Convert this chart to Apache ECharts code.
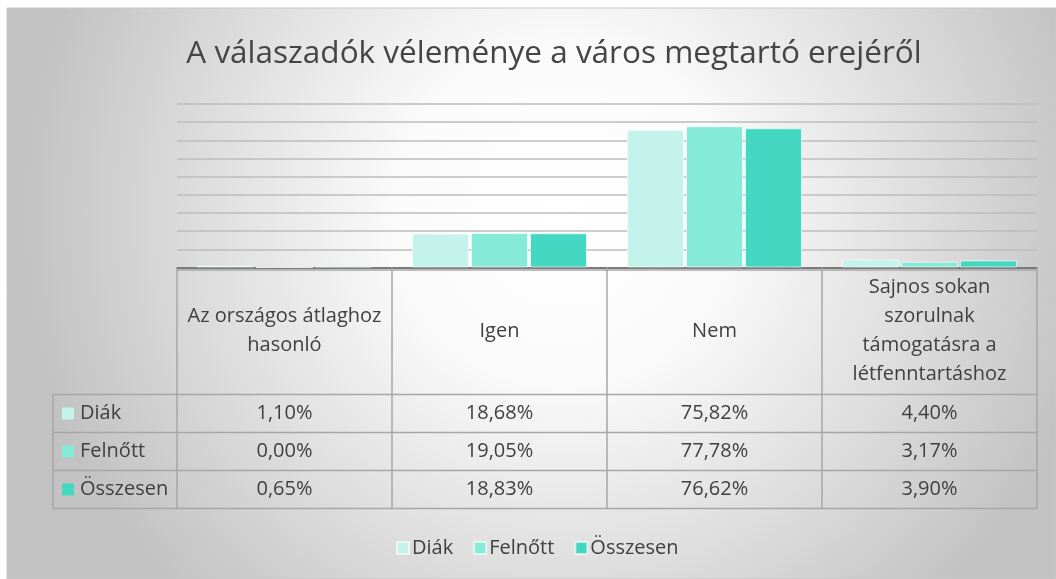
<!DOCTYPE html>
<html>
<head>
<meta charset="utf-8">
<script src="https://cdn.jsdelivr.net/npm/echarts@6/dist/echarts.min.js"></script>
<style>
  html, body { margin: 0; padding: 0; background: #ffffff; }
  #chart { width: 1056px; height: 579px; }
</style>
</head>
<body>
<div id="chart"></div>
<script>
//--------------------------------
// Data
//--------------------------------
const categories = [
    'Az országos átlaghoz\nhasonló',
    'Igen',
    'Nem',
    'Sajnos sokan\nszorulnak\ntámogatásra a\nlétfenntartáshoz'
];
const seriesNames = ['Diák', 'Felnőtt', 'Összesen'];
const diak = [1.10, 18.68, 75.82, 4.40];
const felnott = [0.00, 19.05, 77.78, 3.17];
const osszesen = [0.65, 18.83, 76.62, 3.90];
const seriesColors = ['#c3f3ea', '#86ead9', '#44d8c2'];

//--------------------------------
// Layout
//--------------------------------
const FONT = 'Open Sans';
const gridLeft = 177;
const gridRight = 1037;
const axisY = 267.5;
const plotTop = 104;
const headerH = 127;
const rowH = 38;
const rowLabelLeft = 53;

const rows = [diak, felnott, osszesen];
const fmt = (v) => v.toFixed(2).replace('.', ',') + '%';

var myChart = echarts.init(document.getElementById('chart'));

let xAxes = [{
    type: 'category',
    data: categories,
    position: 'bottom',
    axisLine: { show: true, lineStyle: { color: '#7a7a7a', width: 2 } },
    axisTick: { show: true, interval: 0, length: headerH + rowH * 3, lineStyle: { color: '#a6a6a6', width: 1.5 } },
    axisLabel: {
        interval: 0,
        margin: headerH / 2,
        verticalAlign: 'middle',
        align: 'center',
        fontFamily: FONT,
        fontSize: 20,
        lineHeight: 29,
        color: '#404040'
    }
}];
rows.forEach((r, i) => {
    xAxes.push({
        type: 'category',
        data: categories,
        position: 'bottom',
        axisLine: { show: false },
        axisTick: { show: false },
        axisLabel: {
            interval: 0,
            margin: headerH + rowH * (i + 0.5),
            verticalAlign: 'middle',
            fontFamily: FONT,
            fontSize: 20,
            color: '#404040',
            formatter: (v, idx) => fmt(r[idx])
        }
    });
});

// table lines and row headers
let graphics = [{
    type: 'rect',
    z: -100,
    shape: { x: 7, y: 8, width: 1049, height: 571 },
    style: {
        fill: new echarts.graphic.RadialGradient(0.53, 0.36, 0.95, [
            { offset: 0, color: '#ffffff' },
            { offset: 0.3, color: '#fbfbfb' },
            { offset: 1, color: '#c2c2c2' }
        ]),
        stroke: '#c8c8c8',
        lineWidth: 1
    }
}, {
    type: 'line',
    shape: { x1: gridLeft, y1: axisY + 2.5, x2: gridRight, y2: axisY + 2.5 },
    style: { stroke: '#a6a6a6', lineWidth: 1.5 }
}, {
    type: 'line',
    shape: { x1: rowLabelLeft, y1: axisY + headerH, x2: rowLabelLeft, y2: axisY + headerH + rowH * 3 },
    style: { stroke: '#a6a6a6', lineWidth: 1.5 }
}];
for (let i = 0; i <= 3; i++) {
    let y = axisY + headerH + rowH * i;
    graphics.push({
        type: 'line',
        shape: { x1: rowLabelLeft, y1: y, x2: gridRight, y2: y },
        style: { stroke: '#a6a6a6', lineWidth: 1.5 }
    });
}
seriesNames.forEach((name, i) => {
    let cy = axisY + headerH + rowH * (i + 0.5);
    graphics.push({
        type: 'rect',
        shape: { x: rowLabelLeft + 9, y: cy - 6, width: 12, height: 12 },
        style: { fill: seriesColors[i] }
    });
    graphics.push({
        type: 'text',
        x: rowLabelLeft + 27,
        y: cy,
        style: {
            text: name,
            fontFamily: FONT,
            fontSize: 20,
            fill: '#404040',
            verticalAlign: 'middle'
        }
    });
});

let options = {
    animation: false,
    title: {
        text: 'A válaszadók véleménye a város megtartó erejéről',
        left: 549,
        textAlign: 'center',
        top: 33,
        textStyle: {
            fontFamily: FONT,
            fontSize: 31.5,
            fontWeight: 'normal',
            color: '#454545'
        }
    },
    legend: {
        data: seriesNames,
        left: 391,
        top: 533,
        icon: 'rect',
        itemWidth: 12,
        itemHeight: 12,
        itemGap: 20,
        textStyle: { fontFamily: FONT, fontSize: 20, color: '#404040', padding: [0, 0, 0, -2] }
    },
    grid: {
        left: gridLeft,
        right: 1056 - gridRight,
        top: plotTop,
        bottom: 579 - axisY
    },
    xAxis: xAxes,
    yAxis: {
        type: 'value',
        min: 0,
        max: 90,
        interval: 10,
        axisLine: { show: false },
        axisTick: { show: false },
        axisLabel: { show: false },
        splitLine: { lineStyle: { color: '#bcbcbc', width: 1.5 } }
    },
    graphic: graphics,
    series: [
        { name: seriesNames[0], data: diak },
        { name: seriesNames[1], data: felnott },
        { name: seriesNames[2], data: osszesen }
    ].map((s, i) => ({
        name: s.name,
        type: 'bar',
        data: s.data,
        barWidth: 57,
        barGap: '3.5%',
        itemStyle: {
            color: seriesColors[i],
            borderColor: 'rgba(255,255,255,0.6)',
            borderWidth: 1
        }
    }))
};
myChart.setOption(options);
</script>
</body>
</html>
